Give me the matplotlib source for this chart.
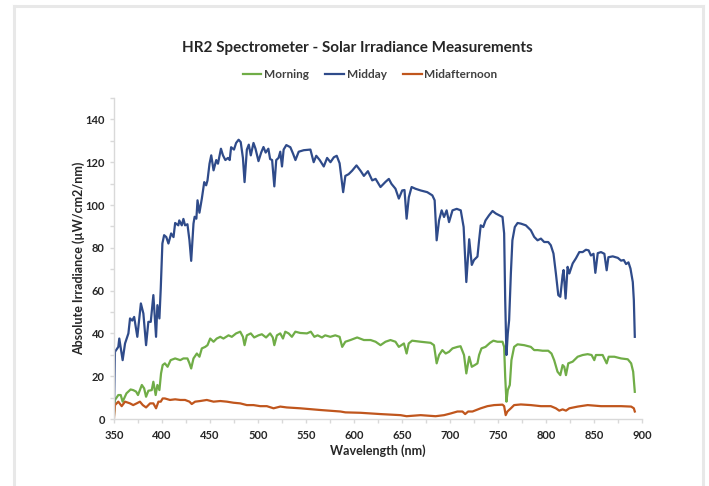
import matplotlib
matplotlib.use("Agg")
import matplotlib.pyplot as plt
from matplotlib.lines import Line2D
from matplotlib.ticker import MultipleLocator

# ---------------- data ----------------
midday_nm = [350, 351, 354.5, 355.5, 359, 361.5, 365, 366.7, 369, 371, 374.3, 378, 380.6, 383.4, 385.8,
             388.3, 391, 393.8, 395.2, 397.3, 398.7, 400.4, 402.2, 404.5, 406.7, 409.5, 412, 413.7, 417,
             418, 420.6, 422.3, 424, 426.5, 428.6, 430.4, 432.8, 434, 435.8, 437, 439, 441.5, 444, 446,
             447.4, 449.5, 451.3, 453.7, 456.5, 458.3, 461.4, 463.5, 466, 468.7, 470.5, 472, 475, 477.2,
             479.8, 482, 484.3, 486, 488.4, 490.4, 492.5, 495.3, 497.4, 500.5, 503.3, 505.7, 508, 510.8,
             512.6, 514.7, 517, 519, 521.4, 523.2, 525, 526.7, 529.5, 533.7, 536.5, 539, 542.4, 547.6,
             554.6, 558, 560.7, 564.3, 568.5, 572, 575.5, 579, 582, 585, 588.7, 591, 594.4, 598, 602.6,
             606.8, 610.3, 614.5, 619, 622.5, 627.6, 632.8, 636.3, 639, 643.2, 646.7, 650.2, 652.6, 654.8,
             657.1, 660, 664, 669.4, 676.3, 681.6, 684, 686.1, 688.6, 691.3, 693.8, 696.5, 699, 702.6,
             707, 711.2, 714.2, 717, 720, 722.7, 725, 728.6, 730.3, 732, 734.6, 737, 740.7, 744.3, 747.8,
             751.2, 754.7, 756.4, 757.5, 758.8, 760.2, 761.6, 763.4, 765, 767.5, 770.4, 773.8, 779, 784.2,
             787.7, 791.2, 794.7, 798.1, 802.3, 805, 807.8, 810.3, 812.8, 814.9, 817.3, 818.3, 820.4,
             822.5, 824.3, 827.8, 831.2, 834.7, 838.2, 841.6, 844.4, 846.8, 849.5, 851.4, 853.9, 857.3,
             860.8, 863.2, 865, 869.5, 874.8, 878.2, 881, 883.4, 885.9, 888, 890.4, 891.5, 892.5]
midday_val = [4, 31.4, 33.7, 37.6, 27.5, 35.3, 40, 47, 46, 47.7, 38.4, 54, 49.3, 34.5, 45.4,
              45.4, 57.9, 38.4, 53.2, 47, 61, 82, 85.9, 85, 82, 86.7, 85, 91.6, 90.5,
              92.8, 90.5, 93.5, 90.5, 91, 83.5, 73.9, 91.3, 94.5, 93.6, 102.2, 96.4, 103, 110.7, 109.2,
              111.5, 119.3, 123.2, 116.2, 121, 119.3, 126.3, 123.2, 121, 122, 121, 127, 125.9, 129,
              130.5, 129.4, 122, 110.7, 125.9, 128.2, 123.2, 129, 126.3, 120.5, 124.5, 127.1, 124.5, 126.3,
              121.5, 121, 108.7, 121, 122, 124.9, 118, 125.9, 128, 127, 124, 121, 124.9, 125.6,
              125.9, 120, 123, 121, 118, 122, 120, 122.3, 123, 119.5, 106, 113.6, 114.4, 116, 118.5,
              116, 113.6, 115.8, 111.5, 112.2, 108.4, 110.8, 112.2, 109.9, 107.6, 103, 106.8, 107, 93.6,
              103.6, 108.4, 107.6, 106.8, 106, 104.5, 102.2, 83.5, 92.8, 97.5, 94.4, 97.5, 92, 97.5,
              98.2, 97.5, 89.7, 64, 84, 72, 74.3, 75.9, 83.5, 90.5, 89.7, 92.8, 95.2, 97.2, 96,
              95.2, 94.4, 86.7, 55.5, 29.9, 40, 46.2, 68, 83.5, 89.7, 91.6, 91.3, 90.5, 88.2,
              85.1, 83.5, 84.3, 82.7, 82.7, 81.2, 77.3, 68, 57.9, 57.1, 67.2, 69.6, 56.3,
              71.1, 68, 72.7, 75.1, 78, 78, 79.1, 78.8, 76.4, 77.2, 68.3, 77.5, 78,
              77.2, 69.5, 75.6, 76, 75.3, 74, 74.3, 72.4, 73.2, 70.3, 64, 55.5, 38.4]

morning_nm = [350, 351, 354.5, 357, 359, 363, 367.3, 370, 373, 375, 379, 381.4, 383.4, 385.8, 389.3,
              391, 393.4, 395.2, 397.3, 399, 400.7, 403, 405.8, 409, 413.7, 419, 422.3, 426.5, 428.6,
              430.4, 432.8, 436.3, 439, 441.5, 445, 447.4, 450.2, 453.7, 457, 460.7, 464, 469.3, 472.7,
              477.2, 481.5, 484.3, 486, 488.4, 492.5, 496, 500.5, 504, 508.4, 512.6, 515.4, 517, 519.7,
              523.2, 526, 528.4, 531.9, 535.3, 538.9, 544, 551, 555, 558.7, 562.1, 566.6, 570, 575.3,
              580.5, 585, 587.7, 591, 596.3, 603.3, 610.3, 617.3, 622.5, 627.6, 632.8, 638, 643.2,
              646.7, 652, 654.8, 657, 660.5, 669.4, 679.8, 683.3, 686.1, 688.6, 692, 695.5, 699, 702.6,
              707.7, 711, 714.6, 717, 720, 722.7, 725.8, 728.6, 730.3, 732.8, 737, 741.7, 745.2, 749.4,
              754.7, 756.4, 757.5, 758.8, 760.2, 762.3, 764, 766.8, 770.4, 777.3, 784.2, 787.7, 791.2,
              796.4, 802.3, 805.7, 808.5, 812, 814.9, 817.3, 819, 820.8, 823.2, 827.8, 833, 838.2, 843.4,
              847.5, 850.3, 852, 859, 863.2, 865.3, 871.2, 878.2, 885.2, 888.7, 890.8, 892.5]
morning_val = [2, 8.9, 11.2, 11.2, 8.1, 12, 13.8, 13.5, 12.8, 11.2, 15.9, 14.3, 10.4, 13.2, 13.5,
               17.4, 11.2, 15.9, 13.5, 21.3, 25.2, 26, 24.4, 27.5, 28.3, 27.5, 28.3, 28.3, 26,
               23.6, 28.3, 30.6, 29.1, 33, 33.7, 34.5, 37.6, 36.1, 37.6, 38.4, 37.6, 39.1, 38.4,
               40, 40.8, 38.4, 34.5, 39.1, 40, 38.1, 39.1, 39.6, 38.1, 40, 38.1, 34.5, 39.1,
               40, 37.6, 40.8, 40, 38.4, 40.8, 40.2, 40, 40.8, 38.4, 39.1, 38.1, 39.1, 38.4,
               39.1, 38.4, 33.7, 36.1, 36.9, 38.1, 36.9, 36.9, 36.1, 34.5, 36.1, 36.9, 36.1,
               33.7, 35.3, 30.6, 35.3, 36.6, 36.1, 35.6, 34.5, 26, 29.9, 32.2, 30.6, 31.4, 33,
               33.7, 34, 29.9, 21.3, 29.1, 24.4, 25.2, 26, 29.9, 33, 33.7, 35.6, 36.6, 36.1,
               36.1, 33.7, 19.7, 8.1, 13.5, 15.9, 27.5, 33.7, 34.9, 34.5, 33.7, 32.2, 32.2,
               31.9, 31.9, 30.6, 27.5, 22.1, 20.5, 25.2, 24.4, 20.5, 26, 26.8, 29.1, 29.9, 30.3,
               29.9, 27.5, 29.9, 29.9, 26, 29.1, 29.1, 28.3, 27.9, 26, 22.1, 12.7]

midafternoon_nm = [350, 351, 354.5, 358, 361.5, 366.7, 370, 373.6, 377, 380, 383.4, 387.6, 391, 393.8,
                   396.3, 398.7, 400.7, 403, 408.3, 413.7, 419, 424, 428.6, 431, 434.5, 439.7, 446.7,
                   453.7, 460.7, 467.6, 474.5, 481.5, 488.4, 495.3, 502.3, 509.2, 516.2, 523.2, 530,
                   544, 565, 585.9, 591, 606.8, 627.6, 648.5, 654.8, 669.4, 685, 693.8, 700.8, 707.7,
                   713, 715.8, 718.9, 723.4, 732, 739, 746, 754.7, 756.4, 758, 759.8, 763.4, 766.8,
                   773.8, 784.2, 794.7, 805, 810.3, 813.8, 817.3, 820.8, 824.3, 833, 843.4, 857.3,
                   867.8, 878.2, 888.7, 891.5, 892.5]
midafternoon_val = [0.5, 6.5, 8.1, 6, 8.1, 7.3, 6.5, 7.3, 8.1, 6.5, 5.4, 7.3, 7.3, 5,
                    8.1, 8.1, 9.6, 9.6, 8.9, 9.2, 8.9, 8.9, 8.1, 7, 8.1, 8.4, 8.9,
                    8.1, 8.4, 8.1, 7.6, 7.3, 6.5, 6.5, 6, 6, 5, 5.8, 5.4,
                    5, 4.2, 3.5, 3.1, 2.9, 2.3, 1.8, 1.3, 1.8, 1.3, 1.8, 2.6, 3.5,
                    3.5, 2.3, 3.5, 3.5, 5, 6, 6.5, 6.7, 6, 1.8, 3.5, 5, 6.5,
                    6.8, 6.5, 6, 6, 5, 3.9, 4.5, 3.9, 5, 5.8, 6.5, 6,
                    6, 6, 5.8, 5, 3.5]

series_names = ["Morning", "Midday", "Midafternoon"]
series_colors = ["#70ad47", "#2f4b8a", "#c0561d"]

x_ticks = list(range(350, 901, 50))
y_ticks = list(range(0, 141, 20))

# ---------------- figure ----------------
plt.rcParams['font.family'] = ['Lato', 'DejaVu Sans']
fig = plt.figure(figsize=(7.09, 4.86), dpi=100)
fig.patch.set_facecolor("white")

# outer light frame
W, H = 709.0, 486.0
frame_kw = dict(color="#e8e8e8", lw=2.2, transform=fig.transFigure, clip_on=False)
fig.add_artist(Line2D([14 / W, 14 / W], [0, 1 - 6 / H], **frame_kw))
fig.add_artist(Line2D([14 / W, 703 / W], [1 - 6 / H, 1 - 6 / H], **frame_kw))
fig.add_artist(Line2D([703 / W, 703 / W], [0, 1 - 6 / H], **frame_kw))

ax = fig.add_axes([114 / W, 1 - 419 / H, (642 - 114) / W, (419 - 98) / H])

data = [(morning_nm, morning_val), (midday_nm, midday_val), (midafternoon_nm, midafternoon_val)]
handles = []
for (xs, ys), name, c in zip(data, series_names, series_colors):
    h, = ax.plot(xs, ys, color=c, lw=1.6, label=name, solid_joinstyle="round")
    handles.append(h)

ax.set_xlim(350, 900)
ax.set_ylim(0, 150)
ax.set_xticks(x_ticks)
ax.set_yticks(y_ticks)
ax.xaxis.set_minor_locator(MultipleLocator(25))
ax.yaxis.set_minor_locator(MultipleLocator(10))

for s in ["top", "right"]:
    ax.spines[s].set_visible(False)
for s in ["left", "bottom"]:
    ax.spines[s].set_color("#d9d9d9")
    ax.spines[s].set_linewidth(1.0)

ax.tick_params(axis="both", which="both", color="#d9d9d9", direction="out", length=3, width=1.0)
ax.tick_params(axis="x", which="major", pad=5)
ax.tick_params(axis="y", which="major", pad=3.5)
for lab in ax.get_xticklabels() + ax.get_yticklabels():
    lab.set_fontsize(8)
    lab.set_fontweight("bold")
    lab.set_color("#262626")

ax.set_xlabel("Wavelength (nm)", fontsize=9, fontweight="bold", color="#262626", labelpad=2)
ax.set_ylabel("Absolute Irradiance (µW/cm2/nm)", fontsize=9, fontweight="bold", color="#262626", labelpad=0)

fig.text(357 / W, 1 - 48 / H, "HR2 Spectrometer - Solar Irradiance Measurements",
         ha="center", va="center", fontsize=11, fontweight="bold", color="#262626")

leg = fig.legend(handles=handles, labels=series_names, loc="center", bbox_to_anchor=(370 / W, 1 - 75 / H),
                 ncol=3, frameon=False, handlelength=1.6, handletextpad=0.2, columnspacing=1.4,
                 prop=dict(size=8.5, weight="bold"))
for t in leg.get_texts():
    t.set_color("#404040")

fig.savefig("out.png", dpi=100, facecolor="white")
